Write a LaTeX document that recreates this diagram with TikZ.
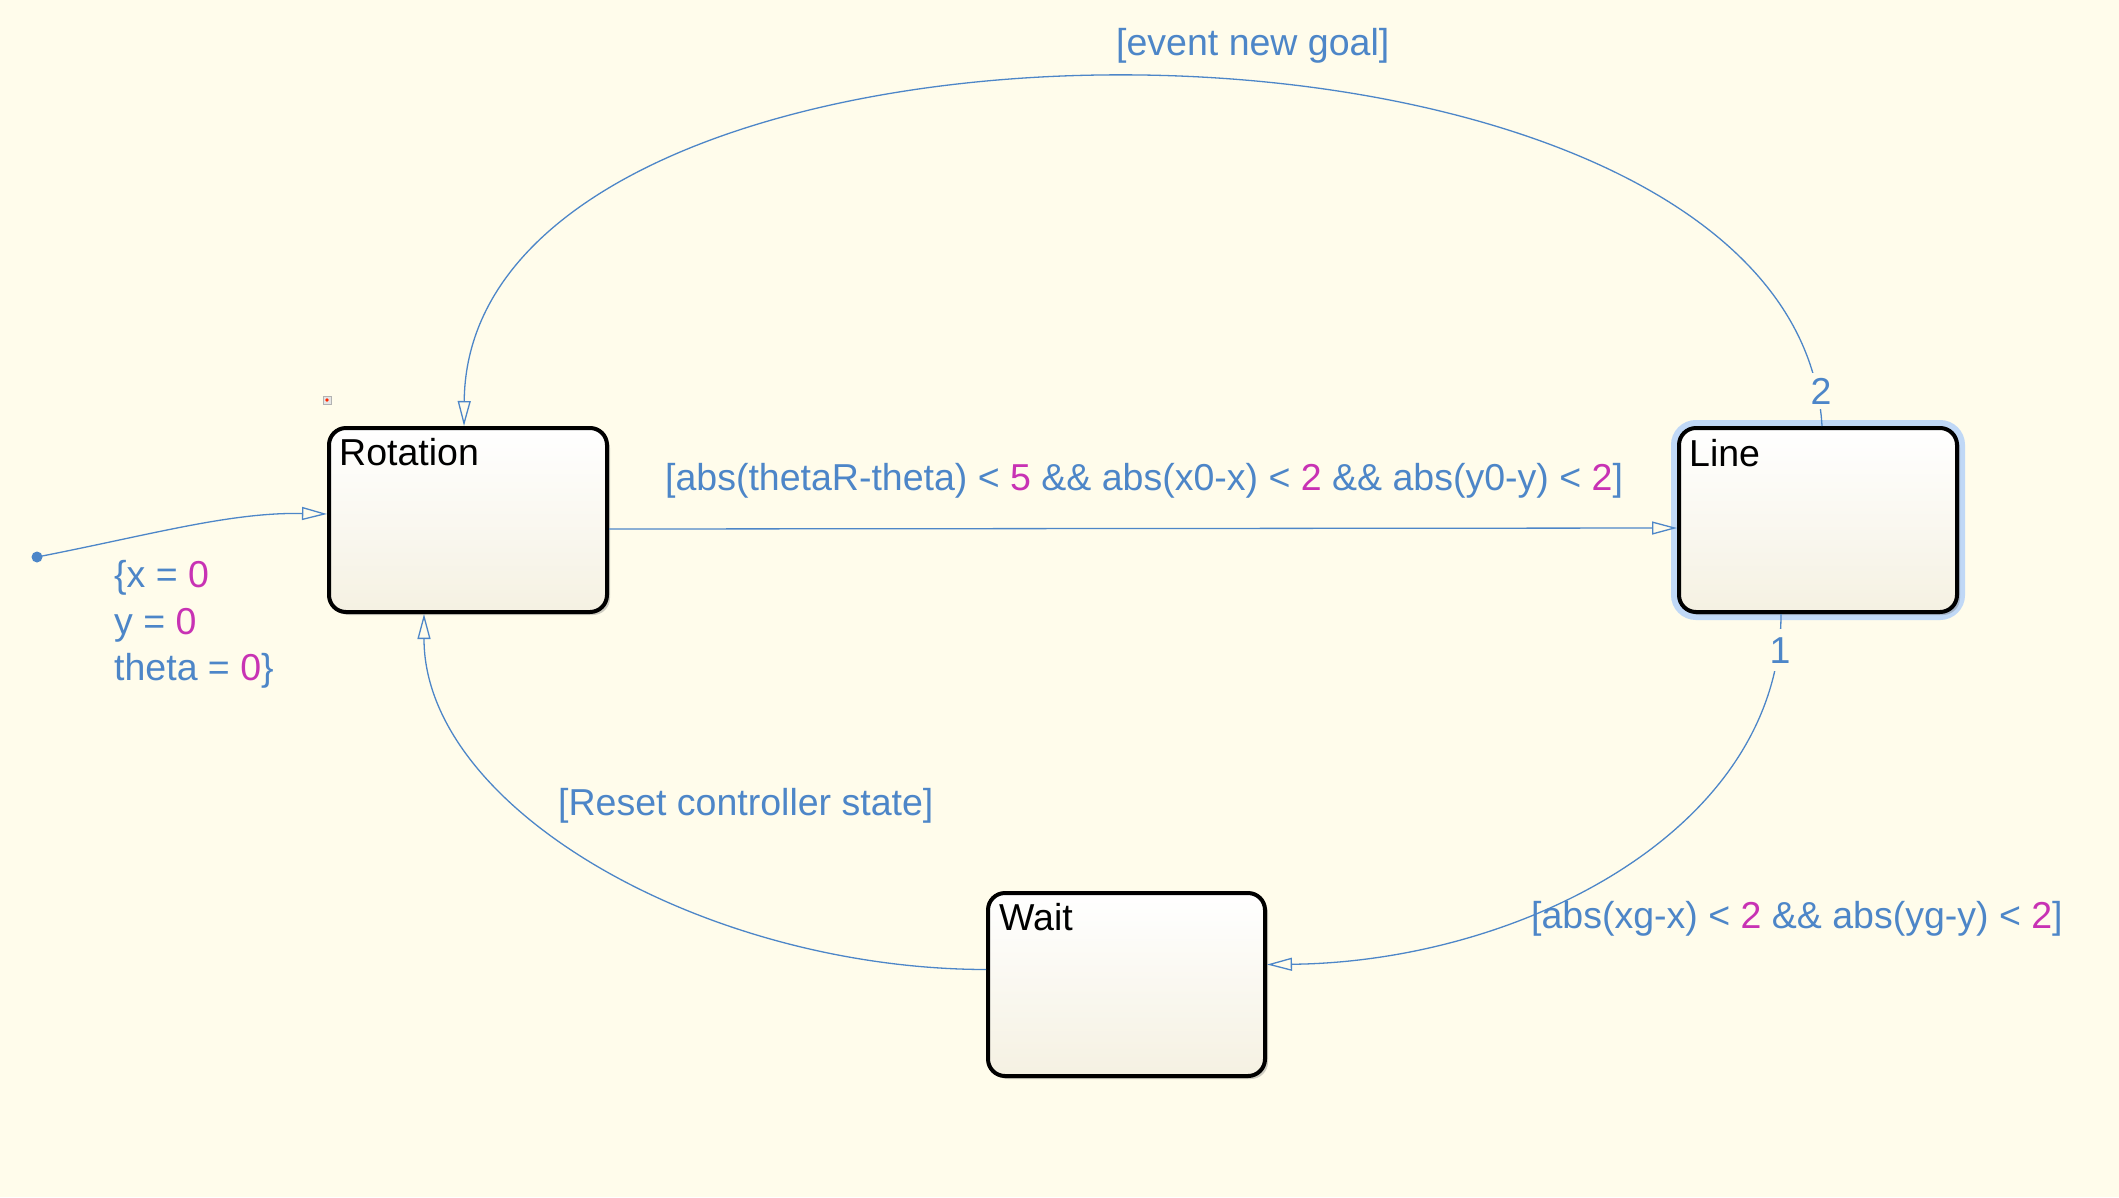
\documentclass[tikz,border=0pt]{standalone}
\usepackage{fontspec}
\setmainfont{Liberation Sans}
\usetikzlibrary{arrows.meta,shadows,calc}
\definecolor{bg}{RGB}{255,252,235}
\definecolor{tblue}{RGB}{77,134,200}
\definecolor{tmag}{RGB}{200,50,180}
\definecolor{boxbot}{RGB}{245,241,226}
\definecolor{glowblue}{RGB}{192,216,246}
\begin{document}
\begin{tikzpicture}[x=1pt,y=-1pt,
  state/.style={draw=black, line width=4pt, rounded corners=17pt, top color=white, bottom color=boxbot,
    drop shadow={shadow xshift=3pt, shadow yshift=-3pt, opacity=0.35, fill=black!55},
    inner sep=0pt, minimum width=278pt, minimum height=184pt},
  trans/.style={draw=tblue, line width=1.3pt, -{Triangle[open,length=25pt,width=13pt,line width=1.3pt]}},
  lbl/.style={text=tblue, font=\fontsize{37.5}{44}\selectfont, inner sep=0pt, anchor=base west},
  ttl/.style={text=black, font=\fontsize{37.5}{44}\selectfont, inner sep=0pt, anchor=base west},
]
\fill[bg] (0,0) rectangle (2119,1197);
\useasboundingbox (0,0) rectangle (2119,1197);

% selection glow around Line
\node[draw=glowblue, line width=16pt, rounded corners=17pt, minimum width=278pt, minimum height=184pt, inner sep=0pt] (lineglow) at (1818,520) {};

% states
\node[state] (rotbox) at (468,520) {};
\node[state] (linebox) at (1818,520) {};
\node[state, minimum width=277pt, minimum height=183pt] (waitbox) at (1126.5,984.5) {};

\node[ttl] (rottitle) at (339,465) {Rotation};
\node[ttl] (linetitle) at (1689,466) {Line};
\node[ttl] (waittitle) at (999,930) {Wait};

% small icon
\node[draw=gray!60, fill=gray!20, minimum size=8pt, inner sep=0pt] (icon) at (327,400) {};
\fill[red!70!orange] (icon.center) circle (1.8pt);

% transitions
\draw[trans] ([xshift=4pt]linebox.north) .. controls (1795,-38) and (468,-38) .. ([xshift=-4pt]rotbox.north);
\node[lbl, fill=bg, anchor=base, inner xsep=1pt, inner ysep=5pt] (ord2) at (1821,404) {2};

\draw[trans] ([yshift=-9pt]rotbox.east) -- ([yshift=-8pt]linebox.west);

\draw[trans] ([xshift=-37pt]linebox.south) .. controls (1781,830) and (1520,962) .. ([yshift=20pt]waitbox.east);
\node[lbl, fill=bg, anchor=base, inner xsep=1pt, inner ysep=8pt] (ord1) at (1780,663) {1};

\draw[trans] ([yshift=15pt]waitbox.west) .. controls (705,969) and (424,809) .. ([xshift=-44pt]rotbox.south);

\node[circle, fill=tblue, inner sep=0pt, minimum size=11pt] (init) at (37,557) {};
\draw[trans] (init.center) .. controls (150,535) and (230,512) .. ([yshift=6pt]rotbox.west);

% labels
\node[lbl] (evlbl) at (1116,55) {[event new goal]};
\node[lbl] (mainlbl) at (665,490) {[abs(thetaR-theta) < \textcolor{tmag}{5} \&\& abs(x0-x) < \textcolor{tmag}{2} \&\& abs(y0-y) < \textcolor{tmag}{2}]};
\node[lbl] (resetlbl) at (558,815) {[Reset controller state]};
\node[lbl] (xglbl) at (1531,928) {[abs(xg-x) < \textcolor{tmag}{2} \&\& abs(yg-y) < \textcolor{tmag}{2}]};
\node[lbl] (init1) at (114,587) {\{x = \textcolor{tmag}{0}};
\node[lbl] (init2) at (114,634) {y = \textcolor{tmag}{0}};
\node[lbl] (init3) at (114,680) {theta = \textcolor{tmag}{0}\}};
\end{tikzpicture}
\end{document}
